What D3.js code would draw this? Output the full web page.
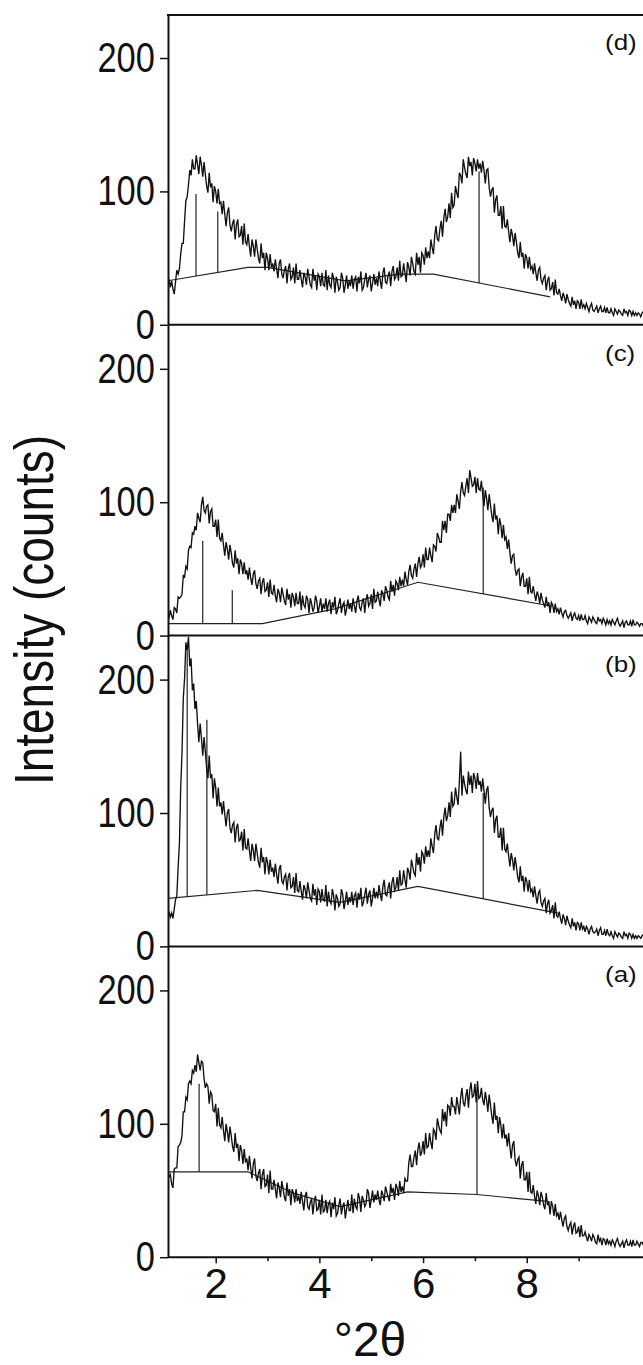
<!DOCTYPE html>
<html>
<head>
<meta charset="utf-8">
<script src="https://cdn.jsdelivr.net/npm/d3@7"></script>
<style>
  body { margin: 0; background: #fff; }
  text { font-family: "Liberation Sans", Arial, sans-serif; fill: #111; }
</style>
</head>
<body>
<svg id="chart" width="643" height="1365"></svg>
<script>
// 2theta sampling grid, 0.025 deg steps from 1.100 to 10.300
var twoTheta = d3.range(369).map(function(i) { return +(1.1 + i * 0.025).toFixed(3); });

// intensity (counts), one row = 0.5 deg
var countsD = [
  34, 28, 33, 27, 23, 32, 41, 38, 42, 53, 61, 61, 78, 93, 96, 105, 116, 112, 124, 117,
  117, 127, 120, 113, 126, 120, 111, 122, 113, 104, 99, 114, 103, 106, 92, 104, 100, 91, 102, 91,
  92, 83, 93, 83, 74, 84, 88, 75, 70, 76, 79, 64, 75, 79, 66, 67, 74, 60, 76, 62,
  60, 68, 59, 51, 64, 59, 51, 64, 57, 50, 46, 61, 50, 54, 41, 54, 50, 41, 53, 43,
  46, 40, 49, 42, 35, 46, 49, 38, 35, 41, 44, 31, 42, 46, 34, 36, 43, 31, 46, 34,
  34, 41, 34, 28, 39, 36, 30, 42, 36, 30, 28, 42, 33, 37, 26, 38, 36, 29, 39, 30,
  29, 41, 26, 37, 30, 28, 39, 35, 24, 36, 32, 26, 28, 39, 35, 24, 30, 37, 27, 33,
  29, 37, 27, 34, 36, 25, 36, 31, 40, 26, 28, 34, 39, 28, 34, 37, 25, 31, 38, 30,
  35, 29, 40, 33, 27, 39, 43, 32, 31, 37, 40, 29, 40, 44, 34, 36, 43, 33, 48, 36,
  37, 46, 39, 32, 47, 43, 37, 51, 46, 40, 38, 54, 45, 51, 39, 54, 52, 45, 58, 50,
  55, 50, 64, 58, 53, 67, 74, 64, 63, 72, 78, 66, 80, 87, 77, 81, 91, 80, 99, 88,
  90, 104, 99, 95, 114, 112, 106, 124, 118, 113, 110, 126, 119, 122, 112, 125, 121, 115, 124, 117,
  121, 114, 123, 116, 106, 116, 117, 103, 96, 101, 103, 84, 94, 97, 82, 82, 89, 72, 89, 74,
  73, 79, 70, 62, 72, 67, 59, 69, 62, 54, 50, 62, 51, 54, 42, 53, 50, 42, 51, 42,
  44, 38, 46, 39, 33, 41, 43, 34, 31, 35, 37, 26, 33, 36, 26, 27, 32, 22, 34, 24,
  23, 27, 22, 18, 24, 21, 16, 23, 19, 16, 14, 21, 15, 18, 12, 18, 17, 12, 19, 13,
  15, 12, 16, 13, 10, 14, 16, 11, 10, 12, 14, 9, 12, 14, 10, 10, 13, 9, 13, 9,
  9, 12, 9, 7, 12, 10, 8, 11, 10, 8, 7, 12, 9, 10, 7, 11, 10, 7, 10, 7,
  9, 7, 9, 8, 6, 9, 10, 7, 8
];
var countsC = [
  13, 19, 15, 12, 21, 20, 17, 29, 28, 29, 31, 45, 44, 52, 50, 64, 67, 66, 77, 76,
  82, 79, 92, 88, 85, 98, 104, 94, 92, 97, 98, 84, 93, 95, 82, 82, 87, 74, 87, 73,
  71, 77, 68, 60, 70, 65, 57, 68, 62, 54, 51, 64, 54, 58, 46, 57, 54, 46, 55, 46,
  49, 42, 51, 43, 38, 46, 49, 39, 35, 41, 43, 31, 40, 43, 33, 34, 40, 29, 42, 32,
  31, 38, 30, 25, 35, 32, 25, 36, 31, 26, 23, 35, 27, 31, 21, 32, 29, 22, 32, 24,
  24, 33, 19, 30, 23, 21, 30, 27, 17, 28, 24, 18, 21, 30, 26, 17, 22, 28, 18, 24,
  20, 28, 18, 24, 27, 16, 25, 21, 29, 16, 19, 24, 28, 17, 23, 25, 15, 20, 27, 20,
  24, 18, 28, 22, 17, 26, 30, 21, 19, 25, 28, 17, 27, 31, 22, 24, 31, 20, 35, 25,
  26, 33, 27, 22, 34, 31, 26, 37, 34, 29, 27, 41, 33, 38, 30, 41, 39, 34, 44, 37,
  42, 37, 48, 42, 38, 48, 53, 45, 43, 50, 54, 44, 54, 59, 51, 53, 61, 51, 66, 57,
  57, 66, 60, 55, 68, 67, 63, 77, 74, 70, 70, 86, 79, 86, 77, 91, 91, 86, 98, 92,
  98, 92, 106, 101, 95, 108, 115, 107, 105, 112, 118, 107, 124, 118, 112, 113, 119, 107, 118, 110,
  109, 116, 106, 97, 109, 103, 94, 106, 98, 90, 85, 99, 87, 90, 76, 88, 83, 73, 83, 72,
  74, 65, 72, 62, 54, 60, 61, 50, 45, 49, 50, 37, 44, 47, 37, 37, 43, 31, 44, 33,
  32, 37, 31, 26, 33, 30, 24, 32, 27, 24, 21, 29, 22, 25, 17, 25, 23, 17, 24, 18,
  20, 16, 21, 17, 14, 18, 19, 15, 13, 15, 17, 11, 15, 17, 13, 12, 15, 11, 16, 12,
  12, 15, 11, 9, 14, 12, 10, 14, 12, 10, 9, 14, 11, 12, 9, 13, 11, 8, 12, 9,
  11, 8, 12, 10, 8, 11, 13, 9, 7, 9, 11, 6, 10, 11, 8, 8, 11, 7, 12, 8,
  8, 10, 9, 7, 9, 9, 7, 9, 8
];
var countsB = [
  26, 22, 25, 21, 28, 35, 38, 59, 77, 119, 145, 186, 201, 228, 222, 232, 210, 216, 192, 197,
  178, 184, 167, 153, 167, 156, 143, 157, 146, 134, 126, 143, 126, 129, 111, 126, 119, 105, 119, 105,
  108, 99, 109, 99, 90, 100, 103, 89, 85, 91, 93, 78, 89, 92, 79, 80, 86, 72, 88, 74,
  73, 81, 72, 64, 77, 72, 64, 77, 70, 63, 59, 74, 63, 67, 54, 67, 63, 54, 65, 56,
  59, 52, 62, 54, 47, 58, 61, 49, 47, 52, 54, 42, 52, 55, 44, 45, 52, 40, 55, 42,
  41, 49, 41, 35, 46, 43, 36, 48, 42, 36, 34, 47, 38, 43, 31, 43, 41, 33, 43, 35,
  34, 46, 30, 41, 34, 32, 43, 38, 27, 39, 36, 30, 32, 43, 39, 28, 34, 41, 31, 37,
  33, 41, 31, 38, 40, 29, 40, 35, 44, 30, 33, 39, 44, 32, 39, 42, 30, 36, 44, 36,
  41, 36, 46, 39, 34, 45, 50, 39, 38, 44, 48, 36, 48, 52, 42, 44, 52, 42, 57, 46,
  47, 57, 50, 44, 59, 56, 50, 65, 60, 55, 53, 70, 61, 67, 56, 71, 69, 62, 75, 67,
  72, 67, 81, 75, 70, 84, 91, 81, 80, 89, 95, 83, 97, 104, 94, 98, 108, 97, 116, 105,
  107, 119, 112, 106, 124, 146, 113, 128, 122, 117, 114, 131, 121, 128, 115, 130, 126, 118, 130, 121,
  124, 116, 126, 117, 107, 117, 120, 104, 97, 102, 104, 85, 95, 98, 82, 82, 89, 72, 89, 73,
  71, 77, 68, 60, 70, 65, 57, 67, 60, 52, 48, 60, 49, 53, 41, 52, 49, 41, 50, 41,
  43, 37, 45, 38, 32, 40, 42, 33, 30, 34, 36, 25, 32, 35, 25, 27, 31, 21, 33, 23,
  22, 26, 21, 17, 24, 21, 16, 23, 19, 16, 14, 21, 15, 18, 12, 18, 17, 12, 18, 13,
  15, 11, 15, 13, 9, 13, 15, 11, 10, 11, 13, 8, 12, 14, 9, 9, 12, 8, 13, 9,
  8, 11, 8, 6, 11, 9, 7, 10, 9, 7, 6, 11, 8, 9, 6, 10, 9, 6, 9, 6,
  8, 6, 8, 7, 6, 8, 9, 6, 7
];
var countsA = [
  60, 62, 55, 52, 66, 67, 67, 83, 84, 86, 91, 109, 109, 120, 118, 130, 132, 130, 140, 138,
  144, 139, 152, 146, 140, 147, 146, 134, 127, 130, 128, 115, 124, 122, 110, 109, 115, 98, 112, 99,
  97, 105, 95, 87, 100, 94, 86, 98, 91, 83, 79, 93, 82, 85, 72, 84, 80, 70, 81, 71,
  74, 65, 76, 67, 59, 70, 74, 61, 57, 63, 66, 51, 62, 66, 53, 54, 62, 48, 65, 51,
  51, 58, 51, 44, 56, 52, 45, 57, 51, 45, 42, 56, 46, 51, 39, 51, 48, 41, 51, 42,
  46, 40, 49, 42, 35, 46, 49, 38, 36, 41, 44, 32, 42, 46, 35, 36, 43, 32, 47, 34,
  35, 43, 33, 40, 42, 30, 41, 36, 45, 31, 33, 39, 44, 32, 38, 41, 29, 36, 43, 35,
  35, 47, 33, 44, 38, 36, 48, 44, 34, 46, 43, 38, 40, 51, 48, 37, 43, 50, 41, 47,
  43, 50, 43, 39, 50, 47, 42, 53, 49, 45, 42, 55, 48, 52, 43, 55, 52, 46, 57, 49,
  53, 48, 59, 57, 57, 71, 77, 68, 68, 75, 80, 69, 81, 86, 76, 79, 87, 77, 93, 82,
  83, 93, 86, 81, 96, 94, 88, 104, 99, 95, 93, 111, 102, 109, 98, 114, 113, 106, 120, 113,
  113, 107, 120, 114, 107, 120, 127, 116, 113, 121, 126, 112, 125, 131, 120, 121, 130, 116, 132, 119,
  120, 127, 118, 114, 124, 118, 109, 122, 114, 106, 100, 116, 103, 106, 93, 105, 99, 89, 100, 89,
  92, 83, 93, 83, 74, 84, 87, 73, 68, 73, 75, 59, 69, 72, 58, 58, 64, 49, 64, 49,
  48, 54, 46, 40, 50, 46, 39, 49, 45, 39, 36, 48, 39, 42, 32, 42, 38, 31, 40, 31,
  33, 28, 34, 28, 23, 29, 31, 23, 20, 24, 26, 17, 23, 26, 18, 19, 23, 15, 24, 16,
  16, 19, 15, 12, 17, 15, 12, 17, 15, 11, 10, 17, 12, 14, 9, 14, 13, 9, 14, 10,
  12, 9, 13, 11, 8, 12, 14, 10, 8, 10, 12, 7, 11, 13, 9, 9, 12, 8, 13, 9,
  9, 12, 10, 8, 11, 11, 9, 12, 10
];

// fitted background, [2theta, counts]
var backgroundD = [[1.08, 33], [2.62, 43], [3.0, 43], [4.5, 33], [5.55, 38], [6.2, 38], [8.45, 21]];
var backgroundC = [[1.08, 9], [2.9, 9], [4.3, 20], [5.9, 40], [8.5, 22]];
var backgroundB = [[1.08, 36], [2.8, 42], [4.4, 33], [5.9, 45], [8.6, 25]];
var backgroundA = [[1.08, 64], [2.62, 64], [3.5, 48], [4.4, 38], [5.7, 49], [7.04, 47], [8.35, 42]];

// peak position markers, [2theta, top counts]
var peaksD = [[1.62, 98], [2.04, 85], [7.08, 115]];
var peaksC = [[1.75, 71], [2.32, 34], [7.16, 111]];
var peaksB = [[1.45, 222], [1.83, 170], [7.16, 115]];
var peaksA = [[1.68, 130], [7.04, 122]];

var panelLabels = ["(d)", "(c)", "(b)", "(a)"];
var xTicks = [2, 4, 6, 8];
var xMinorTicks = [3, 5, 7, 9];
var yTicks = [0, 100, 200];

var panels = [
  { label: panelLabels[0], counts: countsD, bg: backgroundD, peaks: peaksD },
  { label: panelLabels[1], counts: countsC, bg: backgroundC, peaks: peaksC },
  { label: panelLabels[2], counts: countsB, bg: backgroundB, peaks: peaksB },
  { label: panelLabels[3], counts: countsA, bg: backgroundA, peaks: peaksA }
];

var svg = d3.select("#chart");
var top0 = 14, panelH = 310.8, left = 168, right = 646;

var x = d3.scaleLinear().domain([1.08, 10.3]).range([left, right]);

// background value at a given 2theta (straight segments)
function bgAt(bg, t) {
  for (var i = 1; i < bg.length; i++) {
    if (t <= bg[i][0]) {
      var a = bg[i - 1], b = bg[i];
      return a[1] + (b[1] - a[1]) * (t - a[0]) / (b[0] - a[0]);
    }
  }
  return bg[bg.length - 1][1];
}

panels.forEach(function(p, i) {
  var y0 = top0 + i * panelH;
  var y = d3.scaleLinear().domain([0, 233]).range([y0 + panelH, y0]);
  var g = svg.append("g").attr("class", "panel");

  // clip so the trace stays inside its panel
  var clipId = "clip" + i;
  svg.append("clipPath").attr("id", clipId)
    .append("rect").attr("x", left).attr("y", y0 - 3).attr("width", right - left).attr("height", panelH + 3);

  var plot = g.append("g").attr("clip-path", "url(#" + clipId + ")");

  // background
  plot.append("path")
    .datum(p.bg)
    .attr("fill", "none")
    .attr("stroke", "#222")
    .attr("stroke-width", 1.2)
    .attr("d", d3.line().x(function(d) { return x(d[0]); }).y(function(d) { return y(d[1]); }));

  // peak markers
  plot.selectAll(".peak")
    .data(p.peaks)
    .enter().append("line")
    .attr("class", "peak")
    .attr("x1", function(d) { return x(d[0]); })
    .attr("x2", function(d) { return x(d[0]); })
    .attr("y1", function(d) { return y(bgAt(p.bg, d[0])); })
    .attr("y2", function(d) { return y(d[1]); })
    .attr("stroke", "#222")
    .attr("stroke-width", 1.2);

  // pattern
  plot.append("path")
    .datum(p.counts)
    .attr("fill", "none")
    .attr("stroke", "#111")
    .attr("stroke-width", 1.35)
    .attr("d", d3.line().x(function(d, j) { return x(twoTheta[j]); }).y(function(d) { return y(d); }));

  // y axis
  var yAxis = g.append("g")
    .attr("transform", "translate(" + left + ",0)")
    .call(d3.axisLeft(y).tickValues(yTicks).tickSize(8).tickSizeOuter(0).tickPadding(8));
  yAxis.select(".domain").attr("stroke", "#111").attr("stroke-width", 2);
  yAxis.selectAll(".tick line").attr("stroke", "#111").attr("stroke-width", 1.5);
  yAxis.selectAll(".tick text")
    .attr("font-size", 42)
    .attr("transform", "scale(0.82,1)")
    .style("font-family", "'Liberation Sans', Arial, sans-serif")
    .attr("fill", "#111");

  // zero line / frame
  g.append("line")
    .attr("x1", left).attr("x2", right)
    .attr("y1", y(0)).attr("y2", y(0))
    .attr("stroke", "#111").attr("stroke-width", 2);
  if (i === 0) {
    g.append("line")
      .attr("x1", left - 1).attr("x2", right)
      .attr("y1", y0 + 1).attr("y2", y0 + 1)
      .attr("stroke", "#111").attr("stroke-width", 2);
  }

  g.append("text")
    .attr("transform", "translate(605," + (y0 + 36) + ") scale(1.18,1)")
    .attr("font-size", 22)
    .text(p.label);

  if (i === panels.length - 1) {
    var xAxis = g.append("g")
      .attr("transform", "translate(0," + y(0) + ")")
      .call(d3.axisBottom(x).tickValues(xTicks).tickSize(6).tickSizeOuter(0).tickPadding(5));
    xAxis.select(".domain").remove();
    xAxis.selectAll(".tick line").attr("stroke", "#111").attr("stroke-width", 1.5);
    xAxis.selectAll(".tick text")
      .attr("font-size", 42)
      .style("font-family", "'Liberation Sans', Arial, sans-serif")
      .attr("fill", "#111");

    var minor = g.append("g")
      .attr("transform", "translate(0," + y(0) + ")")
      .call(d3.axisBottom(x).tickValues(xMinorTicks).tickSize(4).tickFormat(""));
    minor.select(".domain").remove();
    minor.selectAll(".tick line").attr("stroke", "#111").attr("stroke-width", 1.5);
  }
});

// axis titles
svg.append("text")
  .attr("transform", "translate(53,610) rotate(-90) scale(1,1.2)")
  .attr("text-anchor", "middle")
  .attr("font-size", 46)
  .text("Intensity (counts)");

svg.append("text")
  .attr("x", 370)
  .attr("y", 1356)
  .attr("text-anchor", "middle")
  .attr("font-size", 48)
  .text("\u00b02\u03b8");
</script>
</body>
</html>
